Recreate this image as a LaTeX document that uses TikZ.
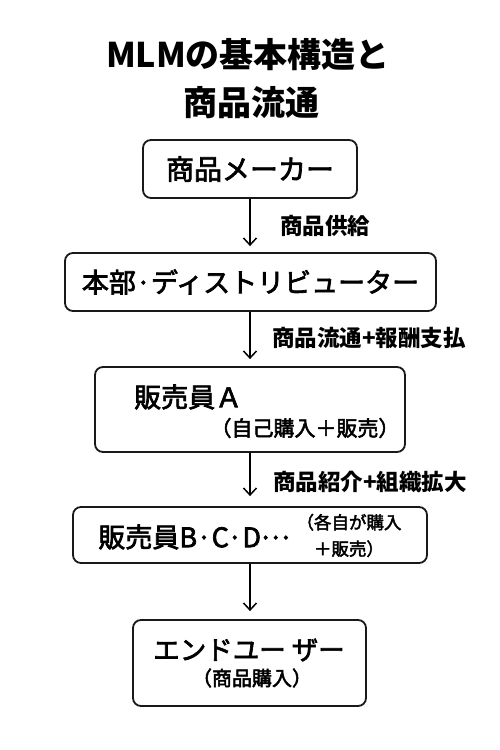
\documentclass[tikz,border=0pt]{standalone}
\usepackage{fontspec}
\setmainfont{Noto Sans CJK JP}
\newfontfamily\jpm[FakeBold=2.5]{Noto Sans CJK JP}
\usetikzlibrary{arrows.meta}
\newcommand{\fsz}[1]{\fontsize{#1}{#1}\selectfont}
\tikzset{
  box/.style={draw=black!90, line width=1.8pt, rounded corners=8pt, fill=white, inner sep=0pt},
  arr/.style={line width=1.5pt, -{Straight Barb[length=7pt,width=13pt,line width=1.5pt]}, shorten >=7pt},
  lbl/.style={anchor=west, inner sep=0pt, font=\fsz{22.5}\bfseries},
  txt/.style={inner sep=0pt},
}
\begin{document}
\begin{tikzpicture}[x=1pt,y=-1pt]
\useasboundingbox (0,0) rectangle (500,750);
\fill[white] (0,0) rectangle (500,750);
% title
\node[txt, font=\fsz{34}\bfseries] (t1) at (248,55) {MLMの基本構造と};
\node[txt, font=\fsz{34}\bfseries] (t2) at (251,103) {商品流通};
% boxes
\node[box, minimum width=214pt, minimum height=58pt, font=\jpm\fsz{28}] (b1) at (250,169) {商品メーカー};
\node[box, minimum width=371pt, minimum height=58pt, font=\jpm\fsz{27}] (b2) at (250.5,282) {本部·ディストリビューター};
\node[box, minimum width=310pt, minimum height=85pt] (b3) at (250,409.5) {};
\node[box, minimum width=354pt, minimum height=56pt] (b4) at (250,535) {};
\node[box, minimum width=233pt, minimum height=86pt] (b5) at (249.5,663) {};
% texts inside
\node[txt, anchor=west, font=\jpm\fsz{27}] (a1) at (134,397) {販売員Ａ};
\node[txt, font=\jpm\fsz{21}] (a2) at (305,428) {（自己購入＋販売）};
\node[txt, font=\jpm\fsz{27}] (c1) at (194,537) {販売員B·C·D\raisebox{0.3em}{…}};
\node[txt, align=center, font=\jpm\fontsize{17.5}{26.5}\selectfont] (c2) at (349,535.5) {（各自が購入\\＋販売）};
\node[txt, font=\jpm\fsz{26.5}] (e1) at (249,650) {エンドユー ザー};
\node[txt, font=\jpm\fsz{20}] (e2) at (252,678) {（商品購入）};
% arrows
\draw[arr, shorten >=6pt] (b1.south) -- (b1.south |- b2.north);
\draw[arr] (b2.south -| b1.south) -- (b1.south |- b3.north);
\draw[arr, shorten >=10pt] (b3.south) -- (b3.south |- b4.north);
\draw[arr, shorten >=8pt] (b4.south) -- (b4.south |- b5.north);
% labels
\node[lbl] (l1) at (280,226) {商品供給};
\node[lbl] (l2) at (272,338) {商品流通+報酬支払};
\node[lbl] (l3) at (273,482) {商品紹介+組織拡大};
\end{tikzpicture}
\end{document}
